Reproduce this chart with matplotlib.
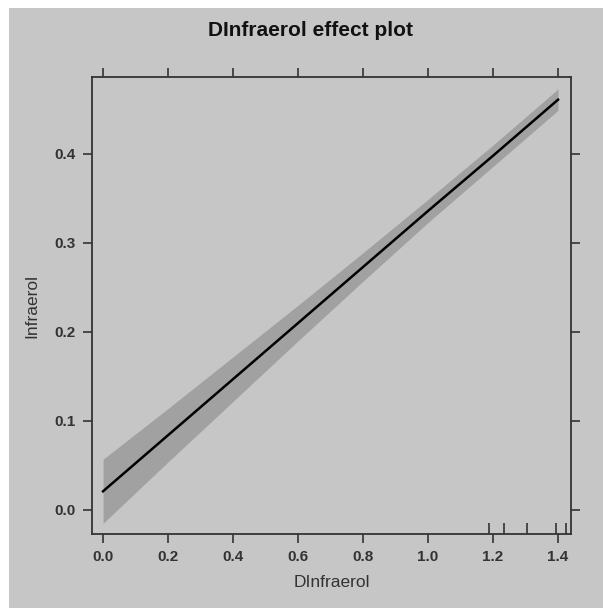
import matplotlib
matplotlib.use("Agg")
import matplotlib.pyplot as plt
from matplotlib.patches import Rectangle

# effect estimates
x_vals = [0.0, 0.2, 0.4, 0.6, 0.8, 1.0, 1.2, 1.4]
fit = [0.021, 0.084, 0.147, 0.210, 0.273, 0.336, 0.398, 0.461]
lower = [-0.015, 0.054, 0.122, 0.190, 0.257, 0.323, 0.386, 0.449]
upper = [0.057, 0.114, 0.172, 0.230, 0.289, 0.349, 0.410, 0.473]
rug = [1.188, 1.234, 1.305, 1.394, 1.425]

xticks = [0.0, 0.2, 0.4, 0.6, 0.8, 1.0, 1.2, 1.4]
yticks = [0.0, 0.1, 0.2, 0.3, 0.4]

bg = "#c6c6c6"
dark = "#333333"
plt.rcParams['font.family'] = ['Liberation Sans', 'DejaVu Sans']

fig = plt.figure(figsize=(6.03, 6.08), dpi=100)
fig.patch.set_facecolor("white")
fig.patches.append(Rectangle((9 / 603, 0), 1, 600 / 608, transform=fig.transFigure,
                             facecolor=bg, edgecolor="none", zorder=-10))

ax = fig.add_axes([92 / 603, 1 - 534 / 608, (571 - 92) / 603, (534 - 77) / 608])
ax.set_facecolor(bg)

ax.fill_between(x_vals, lower, upper, color="#a1a1a1", linewidth=0)
ax.plot(x_vals, fit, color="black", linewidth=1.8)
ax.vlines(rug, 0, 0.024, transform=ax.get_xaxis_transform(), color=dark, linewidth=1.2)

ax.set_xlim(-0.034, 1.44)
ax.set_ylim(-0.027, 0.4865)
ax.set_xticks(xticks)
ax.set_yticks(yticks)
ax.set_xticklabels([f"{v:.1f}" for v in xticks])
ax.set_yticklabels([f"{v:.1f}" for v in yticks])
ax.tick_params(axis="both", direction="out", length=6.5, width=1.2, color=dark,
               labelsize=11, labelcolor=dark, top=True, right=True,
               labeltop=False, labelright=False, pad=5)
for lab in ax.get_xticklabels() + ax.get_yticklabels():
    lab.set_fontweight("bold")
for s in ax.spines.values():
    s.set_color(dark)
    s.set_linewidth(1.3)

ax.set_xlabel("DInfraerol", fontsize=12.5, color=dark, labelpad=8)
ax.set_ylabel("Infraerol", fontsize=12.5, color=dark, labelpad=11)
fig.text(311 / 603, 1 - 30 / 608, "DInfraerol effect plot", ha="center", va="center",
         fontsize=15, fontweight="bold", color="#111111")

fig.savefig("out.png", dpi=100, facecolor=fig.get_facecolor())
